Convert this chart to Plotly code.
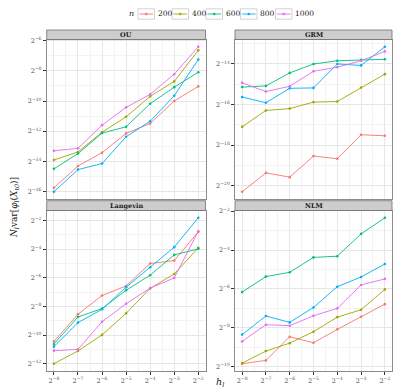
import math
import plotly.graph_objects as go

W, H = 393, 390

# ---------------- data (log2 of the variance) ----------------
h_exp = [-8, -7, -6, -5, -4, -3, -2]          # h_l = 2^k
n_values = [200, 400, 600, 800, 1000]
colors = ["#F8766D", "#A3A500", "#00BF7D", "#00B0F6", "#E76BF3"]
panel_names = ["OU", "GRM", "Langevin", "NLM"]

ou_log2 = {
    200:  [-15.76, -14.31, -13.43, -12.15, -11.49, -10.00, -9.03],
    400:  [-13.91, -13.38, -12.07, -11.05, -9.69, -8.70, -6.64],
    600:  [-14.50, -13.49, -12.13, -11.71, -10.18, -9.08, -8.09],
    800:  [-16.02, -14.55, -14.15, -12.37, -11.34, -9.65, -7.25],
    1000: [-13.30, -13.14, -11.60, -10.42, -9.56, -8.22, -6.40],
}
grm_log2 = {
    200:  [-20.30, -19.37, -19.58, -18.54, -18.67, -17.49, -17.54],
    400:  [-17.10, -16.29, -16.20, -15.88, -15.85, -15.16, -14.50],
    600:  [-15.14, -15.08, -14.44, -14.00, -13.84, -13.79, -13.77],
    800:  [-15.63, -15.91, -15.20, -15.18, -14.00, -14.07, -13.15],
    1000: [-14.93, -15.36, -15.10, -14.36, -14.16, -13.84, -13.38],
}
langevin_log2 = {
    200:  [-10.44, -8.55, -7.24, -6.57, -5.00, -4.80, -2.79],
    400:  [-12.00, -11.11, -9.99, -8.48, -6.74, -5.73, -3.91],
    600:  [-10.62, -8.74, -8.15, -6.87, -5.82, -4.40, -3.98],
    800:  [-10.81, -9.13, -8.20, -6.66, -5.26, -3.86, -1.81],
    1000: [-11.09, -11.00, -9.07, -7.81, -6.72, -6.01, -2.75],
}
nlm_log2 = {
    200:  [-9.86, -9.69, -8.47, -8.78, -8.09, -7.44, -6.79],
    400:  [-9.83, -9.21, -8.80, -8.21, -7.46, -7.08, -6.03],
    600:  [-6.17, -5.37, -5.15, -4.38, -4.32, -3.17, -2.34],
    800:  [-8.36, -7.40, -7.73, -6.96, -5.89, -5.39, -4.72],
    1000: [-8.71, -7.85, -7.90, -7.39, -7.01, -5.80, -5.49],
}
ytick_exps = {
    "OU": [-16, -14, -12, -10, -8, -6],
    "GRM": [-20, -18, -16, -14],
    "Langevin": [-12, -10, -8, -6, -4, -2],
    "NLM": [-10, -8, -6, -4, -2],
}
panel_data = {"OU": ou_log2, "GRM": grm_log2, "Langevin": langevin_log2, "NLM": nlm_log2}

# ---------------- layout geometry (pixels) ----------------
FONT = "DejaVu Serif"
L10 = math.log10(2)

def fx(px):
    return px / W

def fy(py):
    return 1 - py / H

col_px = [(46.7, 205.5), (235.0, 392.0)]
row_px = [(39.5, 199.0), (210.5, 371.0)]
strip_px = [(30.0, 39.5), (200.7, 210.5)]

def sup(k):
    s = str(k).replace("-", "\u2212")
    return "2<sup>" + s + "</sup>"

fig = go.Figure()
shapes = []
annotations = []

for idx, name in enumerate(panel_names):
    r, c = divmod(idx, 2)
    ax = "" if idx == 0 else str(idx + 1)
    data = panel_data[name]
    for n, col in zip(n_values, colors):
        fig.add_trace(go.Scatter(
            x=[2.0 ** k for k in h_exp],
            y=[2.0 ** v for v in data[n]],
            mode="lines+markers",
            line=dict(color=col, width=0.9),
            marker=dict(color=col, size=2.6),
            name=str(n), showlegend=False,
            xaxis="x" + ax, yaxis="y" + ax,
        ))
    allv = [v for n in n_values for v in data[n]]
    lo, hi = min(allv), max(allv)
    pad = 0.05 * (hi - lo)
    ylo, yhi = lo - pad, hi + pad
    xpad = 0.05 * (h_exp[-1] - h_exp[0])
    xlo, xhi = h_exp[0] - xpad, h_exp[-1] + xpad

    xmin_ticks = [k + 0.5 for k in h_exp[:-1]]
    ymaj = ytick_exps[name]
    ymin_ticks = [k for k in range(math.floor(ylo), math.ceil(yhi) + 1) if k % 2 != 0]

    bottom = (r == 1)
    xa = dict(
        type="log", domain=[fx(col_px[c][0]), fx(col_px[c][1])], anchor="y" + ax,
        range=[xlo * L10, xhi * L10],
        tickmode="array", tickvals=[2.0 ** k for k in h_exp], ticktext=[sup(k) for k in h_exp],
        showticklabels=bottom, ticks="outside" if bottom else "", ticklen=3, tickwidth=0.8,
        tickcolor="#333333",
        tickfont=dict(family=FONT, size=6.5, color="#4D4D4D"),
        showgrid=True, gridcolor="#E6E6E6", gridwidth=0.8,
        minor=dict(tickmode="array", tickvals=[2.0 ** k for k in xmin_ticks], showgrid=True,
                   gridcolor="#F3F3F3", gridwidth=0.5, ticks=""),
        showline=True, linecolor="#8C8C8C", linewidth=0.8, mirror=True,
        zeroline=False, automargin=False,
    )
    ya = dict(
        type="log", domain=[fy(row_px[r][1]), fy(row_px[r][0])], anchor="x" + ax,
        range=[ylo * L10, yhi * L10],
        tickmode="array", tickvals=[2.0 ** k for k in ymaj], ticktext=[sup(k) for k in ymaj],
        ticks="outside", ticklen=3, tickwidth=0.8, tickcolor="#333333",
        tickfont=dict(family=FONT, size=6.5, color="#4D4D4D"),
        showgrid=True, gridcolor="#E6E6E6", gridwidth=0.8,
        minor=dict(tickmode="array", tickvals=[2.0 ** k for k in ymin_ticks], showgrid=True,
                   gridcolor="#F3F3F3", gridwidth=0.5, ticks=""),
        showline=True, linecolor="#8C8C8C", linewidth=0.8, mirror=True,
        zeroline=False, automargin=False,
    )
    fig.layout["xaxis" + ax] = xa
    fig.layout["yaxis" + ax] = ya

    # strip
    x0, x1 = fx(col_px[c][0]), fx(col_px[c][1])
    y0, y1 = fy(strip_px[r][1]), fy(strip_px[r][0])
    shapes.append(dict(type="rect", xref="paper", yref="paper", x0=x0, x1=x1, y0=y0, y1=y1,
                       fillcolor="#CDCDCD", line=dict(color="#6E6E6E", width=0.8), layer="above"))
    annotations.append(dict(xref="paper", yref="paper", x=(x0 + x1) / 2, y=(y0 + y1) / 2,
                            text="<b>" + name + "</b>", showarrow=False,
                            font=dict(family=FONT, size=6.5, color="#1A1A1A"),
                            xanchor="center", yanchor="middle"))

# axis titles
annotations.append(dict(xref="paper", yref="paper", x=fx(220), y=fy(382.5),
                        text="<i>h<sub>l</sub></i>", showarrow=False,
                        font=dict(family=FONT, size=9.5, color="#1A1A1A"),
                        xanchor="center", yanchor="middle"))
annotations.append(dict(xref="paper", yref="paper", x=fx(14), y=fy(208),
                        text="<i>N<sub>l</sub></i>var[<i>\u03c6<sub>l</sub></i>(<i>X<sub>t0</sub></i>)]",
                        showarrow=False, textangle=-90,
                        font=dict(family=FONT, size=9, color="#1A1A1A"),
                        xanchor="center", yanchor="middle"))

# manual legend
leg_y = 14.0
annotations.append(dict(xref="paper", yref="paper", x=fx(131.5), y=fy(leg_y), text="<i>n</i>",
                        showarrow=False, font=dict(family=FONT, size=8, color="#1A1A1A"),
                        xanchor="center", yanchor="middle"))
box_left = [138.0, 172.0, 206.0, 240.5, 275.5]
for bl, n, col in zip(box_left, n_values, colors):
    shapes.append(dict(type="rect", xref="paper", yref="paper", x0=fx(bl), x1=fx(bl + 16.5),
                       y0=fy(leg_y + 5.2), y1=fy(leg_y - 5.2),
                       fillcolor="white", line=dict(color="#C8C8C8", width=0.8)))
    shapes.append(dict(type="line", xref="paper", yref="paper", x0=fx(bl + 1.5), x1=fx(bl + 15),
                       y0=fy(leg_y), y1=fy(leg_y), line=dict(color=col, width=0.9)))
    shapes.append(dict(type="circle", xref="paper", yref="paper", x0=fx(bl + 8.25 - 1.2),
                       x1=fx(bl + 8.25 + 1.2), y0=fy(leg_y + 1.2), y1=fy(leg_y - 1.2),
                       fillcolor=col, line=dict(color=col, width=0)))
    annotations.append(dict(xref="paper", yref="paper", x=fx(bl + 17.8), y=fy(leg_y),
                            text=str(n), showarrow=False,
                            font=dict(family=FONT, size=7.5, color="#1A1A1A"),
                            xanchor="left", yanchor="middle"))

fig.update_layout(
    width=W, height=H, margin=dict(l=0, r=0, t=0, b=0),
    paper_bgcolor="white", plot_bgcolor="white",
    shapes=shapes, annotations=annotations, showlegend=False,
    font=dict(family=FONT),
)
fig.write_html("out.html")
